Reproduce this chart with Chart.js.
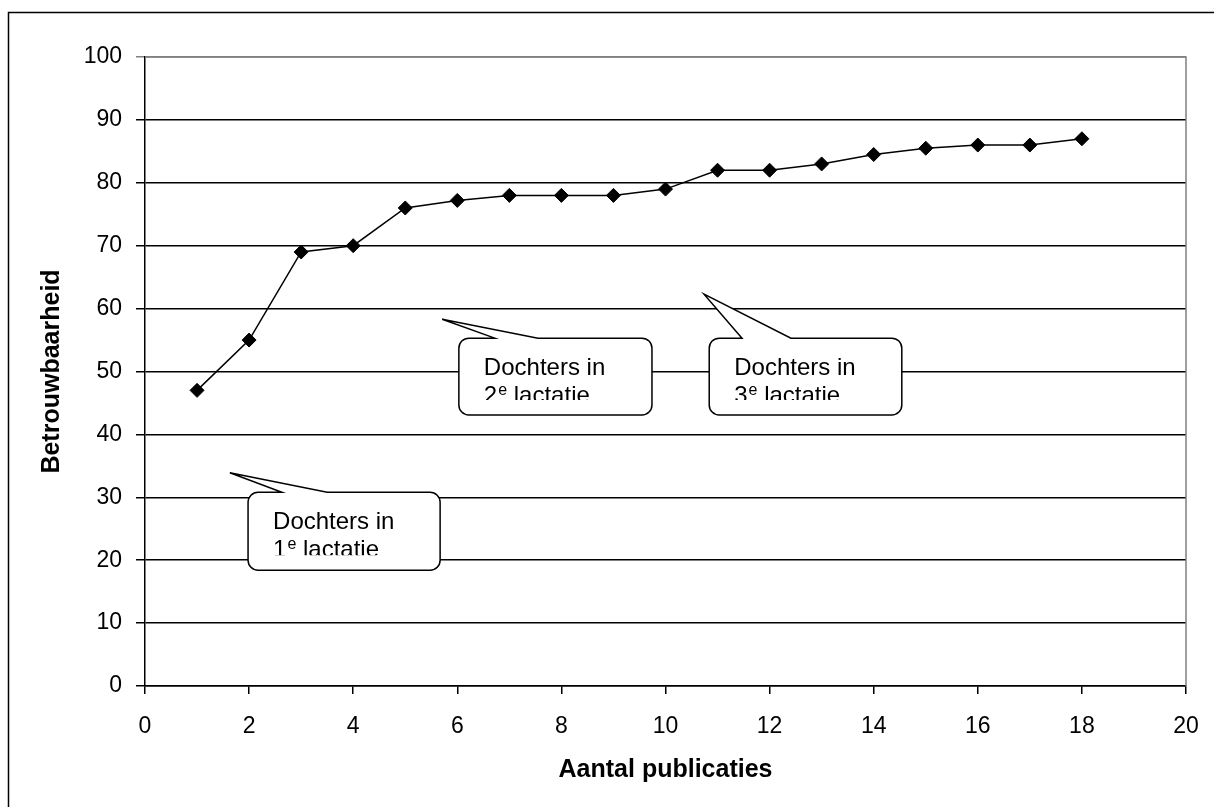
<!DOCTYPE html>
<html>
<head>
<meta charset="utf-8">
<script src="https://cdn.jsdelivr.net/npm/chart.js@4.4.1/dist/chart.umd.min.js"></script>
<style>
    html, body { margin: 0; padding: 0; background: #fff; }
    canvas { display: block; }
</style>
</head>
<body>
<canvas id="myChart" width="1214" height="807"></canvas>
<script>
// aantal publicaties en betrouwbaarheid
const publicaties = [1, 2, 3, 4, 5, 6, 7, 8, 9, 10, 11, 12, 13, 14, 15, 16, 17, 18];
const betrouwbaarheid = [47, 55, 69, 70, 76, 77.2, 78, 78, 78, 79, 82, 82, 83, 84.5, 85.5, 86, 86, 87];

const xTicks = [0, 2, 4, 6, 8, 10, 12, 14, 16, 18, 20];
const yTicks = [0, 10, 20, 30, 40, 50, 60, 70, 80, 90, 100];

const calloutLine1 = ['Dochters in', 'Dochters in', 'Dochters in'];
const calloutNumber = ['1', '2', '3'];
const calloutSup = 'e';
const calloutWord = 'lactatie';

// callout boxes in axis units: box [left, right, top, bottom], pointer base x, tip
const calloutShapes = [
    { box: [1.98, 5.67, 30.8, 18.4], base: [2.63, 3.50], tip: [1.63, 33.9] },
    { box: [6.03, 9.74, 55.3, 43.1], base: [6.72, 7.55], tip: [5.71, 58.3] },
    { box: [10.84, 14.54, 55.3, 43.1], base: [11.47, 12.41], tip: [10.74, 62.3] }
];

const FONT = '"Liberation Sans", Arial, sans-serif';
Chart.defaults.font.family = FONT;
Chart.defaults.color = '#000';

const framePlugin = {
    id: 'frame',
    beforeDraw(chart) {
        const c = chart.ctx;
        c.save();
        c.fillStyle = '#fff';
        c.fillRect(0, 0, chart.width, chart.height);
        c.strokeStyle = '#000';
        c.lineWidth = 1.5;
        c.beginPath();
        c.moveTo(8.5, chart.height);
        c.lineTo(8.5, 12.5);
        c.lineTo(chart.width, 12.5);
        c.stroke();
        c.restore();
    },
    beforeDatasetsDraw(chart) {
        const c = chart.ctx;
        const a = chart.chartArea;
        c.save();
        c.strokeStyle = '#808080';
        c.lineWidth = 1.5;
        c.beginPath();
        c.moveTo(a.left, a.top);
        c.lineTo(a.right, a.top);
        c.lineTo(a.right, a.bottom);
        c.stroke();
        c.restore();
    }
};

const calloutPlugin = {
    id: 'callouts',
    afterDatasetsDraw(chart) {
        const c = chart.ctx;
        const x = chart.scales.x;
        const y = chart.scales.y;
        calloutShapes.forEach((s, i) => {
            const l = x.getPixelForValue(s.box[0]);
            const r = x.getPixelForValue(s.box[1]);
            const t = y.getPixelForValue(s.box[2]);
            const b = y.getPixelForValue(s.box[3]);
            const b1 = x.getPixelForValue(s.base[0]);
            const b2 = x.getPixelForValue(s.base[1]);
            const tx = x.getPixelForValue(s.tip[0]);
            const ty = y.getPixelForValue(s.tip[1]);
            const rad = 10;

            c.save();
            c.beginPath();
            c.moveTo(l + rad, t);
            c.lineTo(b1, t);
            c.lineTo(tx, ty);
            c.lineTo(b2, t);
            c.lineTo(r - rad, t);
            c.arcTo(r, t, r, t + rad, rad);
            c.lineTo(r, b - rad);
            c.arcTo(r, b, r - rad, b, rad);
            c.lineTo(l + rad, b);
            c.arcTo(l, b, l, b - rad, rad);
            c.lineTo(l, t + rad);
            c.arcTo(l, t, l + rad, t, rad);
            c.closePath();
            c.fillStyle = '#fff';
            c.fill();
            c.strokeStyle = '#000';
            c.lineWidth = 1.5;
            c.stroke();

            // text is cut off near the bottom of the box
            c.beginPath();
            c.rect(l, t, r - l, b - t - 15);
            c.clip();
            c.fillStyle = '#000';
            c.textBaseline = 'alphabetic';
            c.textAlign = 'left';
            c.font = '24px ' + FONT;
            const tl = l + 25;
            c.fillText(calloutLine1[i], tl, t + 37);
            const y2 = t + 65;
            c.fillText(calloutNumber[i], tl, y2);
            let px = tl + c.measureText(calloutNumber[i]).width + 1;
            c.font = '16px ' + FONT;
            c.fillText(calloutSup, px, y2 - 8);
            px += c.measureText(calloutSup).width;
            c.font = '24px ' + FONT;
            c.fillText(' ' + calloutWord, px, y2);
            c.restore();
        });
    }
};

const ctx = document.getElementById('myChart').getContext('2d');

new Chart(ctx, {
    type: 'scatter',
    data: {
        datasets: [{
            label: 'Betrouwbaarheid',
            data: publicaties.map((p, i) => ({ x: p, y: betrouwbaarheid[i] })),
            showLine: true,
            borderColor: '#000',
            borderWidth: 1.5,
            pointStyle: 'rectRot',
            pointRadius: 7,
            pointBackgroundColor: '#000',
            pointBorderColor: '#000',
            pointBorderWidth: 1
        }]
    },
    options: {
        responsive: false,
        animation: false,
        devicePixelRatio: 1,
        layout: {
            padding: { left: 0, right: 28, top: 57, bottom: 0 }
        },
        scales: {
            x: {
                type: 'linear',
                min: 0,
                max: 20,
                afterFit: scale => {
                    scale.height = 121;
                    scale.paddingLeft = 0;
                    scale.paddingRight = 0;
                },
                afterBuildTicks: scale => { scale.ticks = xTicks.map(v => ({ value: v })); },
                ticks: {
                    font: { size: 23 },
                    color: '#000',
                    padding: 19,
                    maxRotation: 0
                },
                grid: {
                    drawOnChartArea: false,
                    drawTicks: true,
                    tickLength: 8,
                    color: '#000',
                    lineWidth: 1.5
                },
                border: { color: '#000', width: 1.5 },
                title: {
                    display: true,
                    text: 'Aantal publicaties',
                    font: { size: 25, weight: 'bold' },
                    color: '#000',
                    padding: { top: 0, bottom: 22 }
                }
            },
            y: {
                min: 0,
                max: 100,
                afterFit: scale => {
                    scale.width = 145;
                    scale.paddingTop = 0;
                    scale.paddingBottom = 0;
                },
                afterBuildTicks: scale => { scale.ticks = yTicks.map(v => ({ value: v })); },
                ticks: {
                    font: { size: 23 },
                    color: '#000',
                    padding: 14
                },
                grid: {
                    color: c => (c.tick && c.tick.value === 100) ? '#808080' : '#000',
                    lineWidth: 1.5,
                    tickLength: 9
                },
                border: { color: '#000', width: 1.5 },
                title: {
                    display: true,
                    text: 'Betrouwbaarheid',
                    font: { size: 25, weight: 'bold' },
                    color: '#000',
                    padding: { top: 37, bottom: 0 }
                }
            }
        },
        plugins: {
            legend: { display: false },
            tooltip: { enabled: false }
        }
    },
    plugins: [framePlugin, calloutPlugin]
});
</script>
</body>
</html>
